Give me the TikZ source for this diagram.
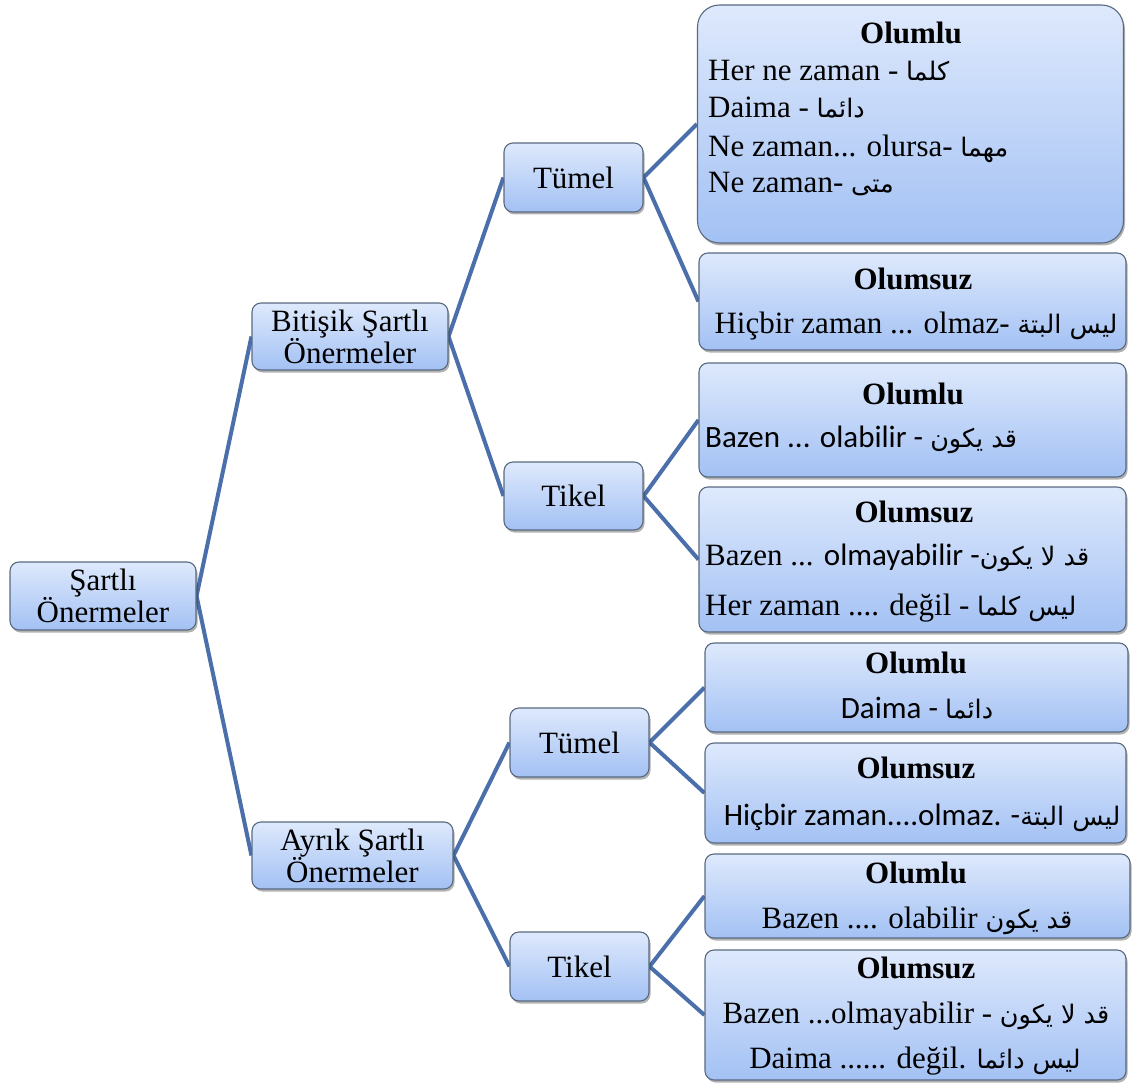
\documentclass[tikz,border=0pt]{standalone}
\usepackage{fontspec}
\setmainfont{Liberation Serif}
\setsansfont{Carlito}
\newfontfamily\arabicfont[Script=Arabic]{DejaVu Sans}
\TeXXeTstate=1
\usetikzlibrary{shadows,backgrounds}
\definecolor{linkc}{HTML}{4A6FAB}
\definecolor{boxtop}{HTML}{DEE9FC}
\definecolor{boxbot}{HTML}{A3C1F4}
\definecolor{boxline}{HTML}{5A6A80}
\newcommand{\artxt}[1]{{\arabicfont\fontsize{25.5}{30}\selectfont\beginR #1\endR}}
\tikzset{
  box/.style={draw=boxline, line width=1.1pt, rounded corners=9pt,
    top color=boxtop, bottom color=boxbot,
    drop shadow={shadow xshift=1.5pt, shadow yshift=-2.5pt, opacity=0.3, fill=black},
    inner sep=0pt, align=center, font=\fontsize{31}{32}\selectfont},
  tl/.style={inner sep=0pt, font=\fontsize{31}{32}\selectfont},
  link/.style={draw=linkc, line width=4pt},
}
\begin{document}
\begin{tikzpicture}[x=1pt, y=-1pt]
\useasboundingbox (0,0) rectangle (1138,1086);
% inner nodes
\node[box, minimum width=186pt, minimum height=68pt] (root) at (103,596) {Şartlı\\Önermeler};
\node[box, minimum width=196pt, minimum height=67pt] (bit) at (350,336.5) {Bitişik Şartlı\\Önermeler};
\node[box, minimum width=201pt, minimum height=67pt] (ayr) at (352.5,855.5) {Ayrık Şartlı\\Önermeler};
\node[box, minimum width=139pt, minimum height=69pt] (tu1) at (573.5,177.5) {Tümel};
\node[box, minimum width=139pt, minimum height=68pt] (ti1) at (573.5,496) {Tikel};
\node[box, minimum width=139pt, minimum height=69pt] (tu2) at (579.5,742.5) {Tümel};
\node[box, minimum width=139pt, minimum height=69pt] (ti2) at (579.5,966.5) {Tikel};
% leaf boxes
\node[box, rounded corners=22pt, minimum width=426pt, minimum height=238pt] (l1) at (910.5,124) {};
\node[box, minimum width=427pt, minimum height=97pt] (l2) at (912.5,301.5) {};
\node[box, minimum width=427pt, minimum height=114pt] (l3) at (912.5,420) {};
\node[box, minimum width=427pt, minimum height=145pt] (l4) at (912.5,559.5) {};
\node[box, minimum width=423pt, minimum height=89pt] (l5) at (916.5,687.5) {};
\node[box, minimum width=421pt, minimum height=100pt] (l6) at (915.5,793) {};
\node[box, minimum width=425pt, minimum height=84pt] (l7) at (917.5,896) {};
\node[box, minimum width=421pt, minimum height=130pt] (l8) at (915.5,1015) {};
% leaf texts
\node[tl, anchor=base] (l1h) at (911,44) {\bfseries Olumlu};
\node[tl, anchor=base west] (l1a) at (708,81) {Her ne zaman - \artxt{كلما}};
\node[tl, anchor=base west] (l1b) at (708,118) {Daima - \artxt{دائما}};
\node[tl, anchor=base west] (l1c) at (708,157) {Ne zaman... olursa- \artxt{مهما}};
\node[tl, anchor=base west] (l1d) at (708,193) {Ne zaman- \artxt{متى}};

\node[tl, anchor=base] (l2h) at (913,289) {\bfseries Olumsuz};
\node[tl, anchor=base] (l2a) at (916,333) {Hiçbir zaman ... olmaz- \artxt{ليس البتة}};

\node[tl, anchor=base] (l3h) at (913,404) {\bfseries Olumlu};
\node[tl, anchor=base west] (l3a) at (705,447) {\sffamily Bazen ... olabilir - \artxt{قد يكون}};

\node[tl, anchor=base] (l4h) at (914,522) {\bfseries Olumsuz};
\node[tl, anchor=base west] (l4a) at (705,565) {Bazen ... {\sffamily olmayabilir -}\artxt{قد لا يكون}};
\node[tl, anchor=base west] (l4b) at (705,615) {Her zaman .... değil - \artxt{ليس كلما}};

\node[tl, anchor=base] (l5h) at (916,673) {\bfseries Olumlu};
\node[tl, anchor=base] (l5a) at (917,718) {\sffamily Daima - \artxt{دائما}};

\node[tl, anchor=base] (l6h) at (916,778) {\bfseries Olumsuz};
\node[tl, anchor=base] (l6a) at (922,825) {\sffamily Hiçbir zaman....olmaz. -\artxt{ليس البتة}};

\node[tl, anchor=base] (l7h) at (916,883) {\bfseries Olumlu};
\node[tl, anchor=base] (l7a) at (917,928) {Bazen .... olabilir \artxt{قد يكون}};

\node[tl, anchor=base] (l8h) at (916,978) {\bfseries Olumsuz};
\node[tl, anchor=base] (l8a) at (916,1023) {Bazen ...olmayabilir - \artxt{قد لا يكون}};
\node[tl, anchor=base] (l8b) at (915,1068) {Daima ...... değil. \artxt{ليس دائما}};
% connectors
\begin{scope}[on background layer]
\fill[white] (0,0) rectangle (1138,1086);
\draw[link] (root.east) -- (bit.west);
\draw[link] (root.east) -- (ayr.west);
\draw[link] (bit.east) -- (tu1.west);
\draw[link] (bit.east) -- (ti1.west);
\draw[link] (ayr.east) -- (tu2.west);
\draw[link] (ayr.east) -- (ti2.west);
\draw[link] (tu1.east) -- (l1.west);
\draw[link] (tu1.east) -- (l2.west);
\draw[link] (ti1.east) -- (l3.west);
\draw[link] (ti1.east) -- (l4.west);
\draw[link] (tu2.east) -- (l5.west);
\draw[link] (tu2.east) -- (l6.west);
\draw[link] (ti2.east) -- (l7.west);
\draw[link] (ti2.east) -- (l8.west);
\end{scope}
\end{tikzpicture}
\end{document}
